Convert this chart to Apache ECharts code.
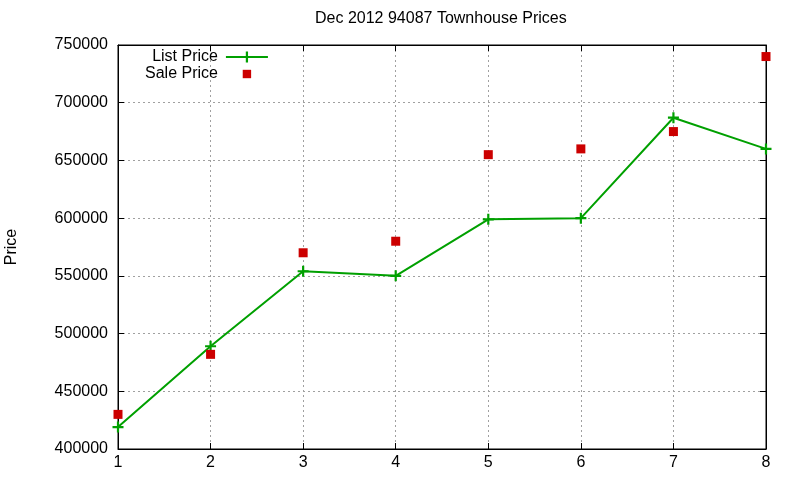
<!DOCTYPE html>
<html lang="en">
<head>
    <meta charset="UTF-8">
    <title>Townhouse Prices</title>
    <script src="https://cdn.jsdelivr.net/npm/echarts@6/dist/echarts.min.js"></script>
    <style>
        html, body { margin: 0; padding: 0; background: #fff; }
        #chart1 { width: 800px; height: 480px; }
    </style>
</head>
<body>
<div id="chart1"></div>
<script type="text/javascript">
    // data
    var months = [1, 2, 3, 4, 5, 6, 7, 8];
    var listPrice = [419000, 489000, 554000, 550000, 599000, 600000, 687000, 660000];
    var salePrice = [430000, 482000, 570000, 580000, 655000, 660000, 675000, 740000];
    var priceTicks = [400000, 750000, 50000]; // min, max, step

    function pairs(xs, ys) {
        return xs.map(function (x, i) { return [x, ys[i]]; });
    }

    var font = 'Liberation Sans, Arial, sans-serif';
    var plus = 'path://M4,0H6V4H10V6H6V10H4V6H0V4H4Z';
    // small square padded inside a bigger box, so the legend draws it small
    var legendSquare = 'path://M0,0M3,3H12V12H3ZM15,15';
    var grid = { type: [2, 3], color: '#a0a0a0', width: 1 };

    var myChart1 = echarts.init(document.getElementById('chart1'));
    myChart1.setOption({
        animation: false,
        backgroundColor: '#fff',
        textStyle: { fontFamily: font, color: '#000' },
        title: {
            text: 'Dec 2012 94087 Townhouse Prices',
            left: 315,
            top: 11,
            padding: 0,
            textStyle: { fontFamily: font, fontSize: 16, fontWeight: 'normal', color: '#000' }
        },
        legend: {
            orient: 'vertical',
            align: 'right',
            left: 145,
            top: 49,
            padding: 0,
            itemGap: 1,
            itemWidth: 42,
            itemHeight: 14,
            textStyle: { fontFamily: font, fontSize: 16, color: '#000', padding: [0, 3, 0, 0] },
            data: [
                { name: 'List Price' },
                { name: 'Sale Price', icon: legendSquare, itemStyle: { color: '#cc0000', opacity: 1 } }
            ]
        },
        grid: {
            left: 118, right: 34, top: 45, bottom: 31,
            containLabel: false,
            outerBoundsMode: 'none',
            show: true, borderColor: '#000', borderWidth: 1
        },
        xAxis: [{
            type: 'value',
            min: months[0], max: months[months.length - 1], interval: 1,
            axisLine: { lineStyle: { color: '#000', width: 1 } },
            axisTick: { inside: true, length: 6, lineStyle: { color: '#000' } },
            axisLabel: { fontSize: 16, color: '#000', margin: 6, fontFamily: font },
            splitLine: { show: true, lineStyle: grid }
        }, {
            type: 'value', position: 'top',
            min: months[0], max: months[months.length - 1], interval: 1,
            axisLine: { lineStyle: { color: '#000' } },
            axisTick: { inside: true, length: 6, lineStyle: { color: '#000' } },
            axisLabel: { show: false },
            splitLine: { show: false }
        }],
        yAxis: [{
            type: 'value',
            min: priceTicks[0], max: priceTicks[1], interval: priceTicks[2],
            name: 'Price',
            nameLocation: 'middle',
            nameGap: 98,
            nameTextStyle: { fontSize: 16, color: '#000', fontFamily: font },
            axisLine: { show: true, lineStyle: { color: '#000' } },
            axisTick: { show: true, inside: true, length: 6, lineStyle: { color: '#000' } },
            axisLabel: {
                fontSize: 16, color: '#000', margin: 10, fontFamily: font,
                formatter: function (v) { return String(v); }
            },
            splitLine: { show: true, lineStyle: grid }
        }, {
            type: 'value', position: 'right',
            min: priceTicks[0], max: priceTicks[1], interval: priceTicks[2],
            axisLine: { show: true, lineStyle: { color: '#000' } },
            axisTick: { show: true, inside: true, length: 6, lineStyle: { color: '#000' } },
            axisLabel: { show: false },
            splitLine: { show: false }
        }],
        series: [{
            name: 'List Price',
            type: 'line',
            data: pairs(months, listPrice),
            symbol: plus,
            symbolSize: 11,
            showAllSymbol: true,
            itemStyle: { color: '#00a000' },
            lineStyle: { color: '#00a000', width: 2 },
            z: 3
        }, {
            name: 'Sale Price',
            type: 'scatter',
            data: pairs(months, salePrice),
            symbol: 'rect',
            symbolSize: 9,
            itemStyle: { color: '#cc0000', opacity: 1 },
            z: 4
        }]
    });
</script>
</body>
</html>
